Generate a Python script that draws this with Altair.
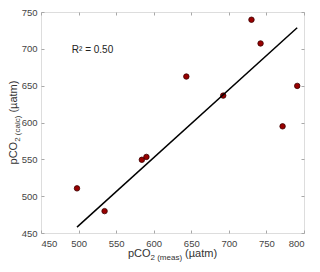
import altair as alt
import pandas as pd

# --- data ---
meas = [497.9, 534.6, 584.2, 590.3, 643.4, 692.5, 730.1, 742.2, 771.5, 791.0]
calc = [510.6, 479.7, 549.4, 553.3, 662.4, 636.5, 739.5, 707.3, 594.8, 649.7]
fit_x = [497.9, 790.9]
fit_y = [457.9, 728.6]
x_ticks = [450, 500, 550, 600, 650, 700, 750, 800]
y_ticks = [450, 500, 550, 600, 650, 700, 750]
r2_label = ["R² = 0.50"]
r2_pos_x = [491.0]
r2_pos_y = [695.0]

W, H = 263, 221
FONT = "Liberation Sans"
TICK_C = "#a8a8a8"
LAB_C = "#444444"
TIT_C = "#333333"

pts = pd.DataFrame({"x": meas, "y": calc})
fit = pd.DataFrame({"x": fit_x, "y": fit_y})
r2 = pd.DataFrame({"x": r2_pos_x, "y": r2_pos_y, "t": r2_label})

xs = alt.Scale(domain=[450, 800], nice=False, zero=False)
ys = alt.Scale(domain=[450, 750], nice=False, zero=False)

common_axis = dict(domain=False, grid=False, tickColor=TICK_C, tickSize=3,
                   offset=-3, tickWidth=1, title="")

points = alt.Chart(pts).mark_point(
    filled=True, size=30, fill="#990000", stroke="#3a0000", strokeWidth=0.8, opacity=1
).encode(
    x=alt.X("x:Q", scale=xs, axis=alt.Axis(orient="bottom", values=x_ticks, labelFont=FONT,
            labelFontSize=9.5, labelColor=LAB_C, labelPadding=5, **common_axis)),
    y=alt.Y("y:Q", scale=ys, axis=alt.Axis(orient="left", values=y_ticks, labelFont=FONT,
            labelFontSize=9.5, labelColor=LAB_C, labelPadding=4, **common_axis)),
)

line = alt.Chart(fit).mark_line(color="black", strokeWidth=1.5).encode(
    x=alt.X("x:Q", scale=xs, axis=alt.Axis(orient="top", values=x_ticks, labels=False, **common_axis)),
    y=alt.Y("y:Q", scale=ys, axis=alt.Axis(orient="right", values=y_ticks, labels=False, **common_axis)),
)

r2_text = alt.Chart(r2).mark_text(
    align="left", baseline="alphabetic", font=FONT, fontSize=10, color="#222222"
).encode(x=alt.X("x:Q", scale=xs, axis=None), y=alt.Y("y:Q", scale=ys, axis=None), text="t:N")

# --- axis titles composed from pieces (main text + smaller subscript) ---
CW = {"p": .556, "C": .722, "O": .778, "2": .556, " ": .278, "(": .333, ")": .333,
      "c": .5, "a": .556, "l": .222, "m": .833, "e": .556, "s": .5, "µ": .576, "t": .278}


def tw(s, fs):
    return sum(CW.get(ch, .556) for ch in s) * fs


MAIN, SUB = 11, 8
GAP = tw(" ", MAIN)


def piece(txt, fs, x, y, angle=0):
    return alt.Chart(pd.DataFrame({"t": [txt]})).mark_text(
        align="left", baseline="alphabetic", font=FONT, fontSize=fs, color=TIT_C, angle=angle
    ).encode(text="t:N", x=alt.value(x), y=alt.value(y))


# x title
xp = ["pCO", "2 (meas)", "(µatm)"]
xw = [tw(xp[0], MAIN), tw(xp[1], SUB), tw(xp[2], MAIN)]
x0 = W / 2 - (sum(xw) + GAP) / 2
xb = H + 24
xt = [
    piece(xp[0], MAIN, x0, xb),
    piece(xp[1], SUB, x0 + xw[0], xb + 2.5),
    piece(xp[2], MAIN, x0 + xw[0] + xw[1] + GAP, xb),
]

# y title (rotated, reading bottom to top)
yp = ["pCO", "2 (calc)", "(µatm)"]
yw = [tw(yp[0], MAIN), tw(yp[1], SUB), tw(yp[2], MAIN)]
y0 = H / 2 + (sum(yw) + GAP) / 2
yb = -24
yt = [
    piece(yp[0], MAIN, yb, y0, 270),
    piece(yp[1], SUB, yb + 2.5, y0 - yw[0], 270),
    piece(yp[2], MAIN, yb, y0 - yw[0] - yw[1] - GAP, 270),
]

chart = alt.layer(points, line, r2_text, *xt, *yt).resolve_axis(
    x="independent", y="independent"
).properties(
    width=W, height=H, autosize="none",
    padding={"left": 33, "top": 4, "right": 8, "bottom": 31},
).configure_view(stroke="#b5b5b5", strokeWidth=1).configure(background="white")

chart.save("out.html", embed_options={"renderer": "svg", "actions": False})
